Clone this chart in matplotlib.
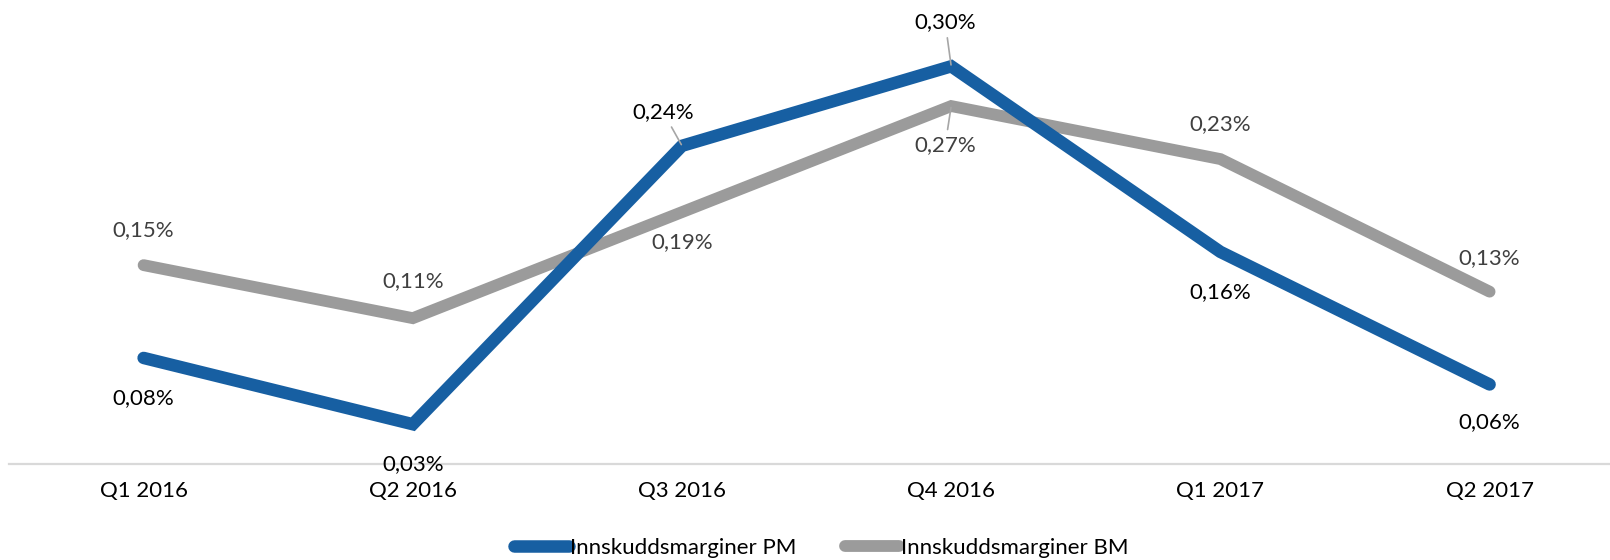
import matplotlib
matplotlib.use('Agg')
import matplotlib.pyplot as plt

quarters = ['Q1 2016', 'Q2 2016', 'Q3 2016', 'Q4 2016', 'Q1 2017', 'Q2 2017']
pm = [0.08, 0.03, 0.24, 0.30, 0.16, 0.06]
bm = [0.15, 0.11, 0.19, 0.27, 0.23, 0.13]
series_names = ['Innskuddsmarginer PM', 'Innskuddsmarginer BM']

BLUE = '#175FA2'
GREY = '#9B9B9B'
plt.rcParams['font.family'] = ['Lato', 'DejaVu Sans']
FS = 16

fig = plt.figure(figsize=(16.1, 5.6), dpi=100)
# category slots are ~269 px wide, the axis runs off the right edge like in the source
ax = fig.add_axes([9 / 1610, 96 / 560, 6 * 269.2 / 1610, 464 / 560])

x = list(range(len(quarters)))
l1, = ax.plot(x, pm, color=BLUE, lw=9, solid_capstyle='round', solid_joinstyle='miter', zorder=3)
l2, = ax.plot(x, bm, color=GREY, lw=8.5, solid_capstyle='round', solid_joinstyle='miter', zorder=2)

ax.set_xlim(-0.5, len(quarters) - 0.5)
ax.set_ylim(0, 0.35)
ax.set_xticks(x)
ax.set_xticklabels(quarters, fontsize=FS, color='black')
ax.tick_params(axis='x', length=0, pad=12)
ax.set_yticks([])
for s in ['top', 'right', 'left']:
    ax.spines[s].set_visible(False)
ax.spines['bottom'].set_color('#D9D9D9')
ax.spines['bottom'].set_linewidth(1.6)


def fmt(v):
    return f'{v:.2f}'.replace('.', ',') + '%'


# label offsets in pixels (dx, dy), and whether a leader line is drawn
pm_off = [(0, -40), (0, -40), (-19, 34), (-6, 44), (0, -40), (0, -38)]
pm_lead = [False, False, True, True, False, False]
bm_off = [(0, 35), (0, 37), (0, -30), (-6, -39), (0, 35), (0, 34)]
bm_lead = [False, False, False, True, False, False]

for vals, offs, leads, col in [(pm, pm_off, pm_lead, 'black'), (bm, bm_off, bm_lead, '#404040')]:
    for i, v in enumerate(vals):
        arrow = None
        if leads[i]:
            arrow = dict(arrowstyle='-', color='#A6A6A6', lw=1.2, shrinkA=2, shrinkB=1)
        ax.annotate(fmt(v), xy=(i, v), xytext=offs[i], textcoords='offset pixels',
                    ha='center', va='center', fontsize=FS, color=col,
                    arrowprops=arrow, zorder=4)

fig.legend([l1, l2], series_names, loc='center', bbox_to_anchor=(0.51, 1 - 548 / 560),
           ncol=2, frameon=False, fontsize=FS, handlelength=2.45, handletextpad=0.05,
           columnspacing=2.2, borderaxespad=0)

fig.savefig('out.png', dpi=100)
